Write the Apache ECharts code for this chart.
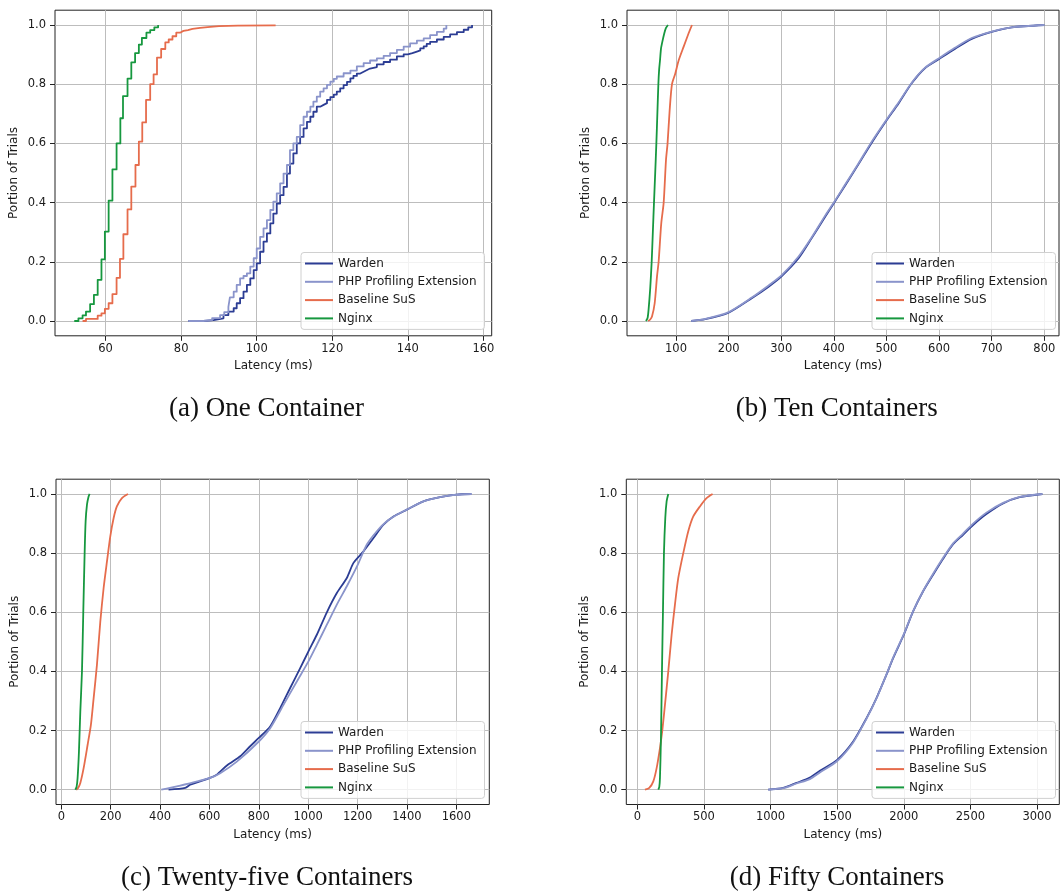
<!DOCTYPE html>
<html>
<head>
<meta charset="utf-8">
<title>Latency CDF</title>
<script src="https://cdn.jsdelivr.net/npm/echarts@6/dist/echarts.min.js"></script>
<style>
  html, body { margin: 0; padding: 0; background: #fff; }
  #chart { width: 1060px; height: 892px; }
</style>
</head>
<body>
<div id="chart"></div>
<script>
const seriesNames = ["Warden", "PHP Profiling Extension", "Baseline SuS", "Nginx"];
const captions = ["(a) One Container", "(b) Ten Containers", "(c) Twenty-five Containers", "(d) Fifty Containers"];

// tick values
const yTicks = [0, 0.2, 0.4, 0.6, 0.8, 1.0];
const oneTicks = [60, 80, 100, 120, 140, 160];
const tenTicks = [100, 200, 300, 400, 500, 600, 700, 800];
const twentyFiveTicks = [0, 200, 400, 600, 800, 1000, 1200, 1400, 1600];
const fiftyTicks = [0, 500, 1000, 1500, 2000, 2500, 3000];

// (a) one container: [latency ms, portion]
const oneWarden = [[81.9,0],[85.9,0.003],[88.6,0.009],[91.2,0.02],[92.5,0.032],[93.9,0.043],[94.7,0.06],[95.6,0.077],[96.5,0.099],[97.4,0.122],[98.3,0.144],[99.2,0.172],[100,0.195],[100.9,0.234],[101.8,0.268],[102.7,0.296],[103.6,0.33],[104.4,0.363],[105.3,0.397],[106.2,0.425],[107.1,0.453],[108,0.498],[108.8,0.532],[109.7,0.566],[110.6,0.6],[111.5,0.622],[112.4,0.651],[113.3,0.673],[114.2,0.69],[115,0.707],[115.9,0.724],[116.8,0.73],[117.7,0.736],[118.6,0.747],[119.5,0.756],[120.4,0.765],[121.2,0.775],[122.1,0.786],[123,0.797],[123.9,0.808],[124.8,0.82],[125.6,0.828],[126.5,0.836],[127.4,0.842],[128.3,0.848],[129.2,0.853],[130,0.858],[131.8,0.867],[133.6,0.875],[135.3,0.883],[137.1,0.894],[138.9,0.901],[140,0.905],[141.2,0.91],[142.4,0.914],[143.3,0.921],[144.2,0.928],[145,0.936],[145.9,0.943],[147.7,0.951],[149.5,0.96],[151.2,0.968],[153,0.976],[154.8,0.984],[156,0.992],[157,1.0]];
const onePhp = [[81.9,0],[85.9,0.003],[88.2,0.01],[90.3,0.02],[91.4,0.03],[92.5,0.048],[92.9,0.08],[93.9,0.099],[94.7,0.122],[95.6,0.144],[96.5,0.152],[97.4,0.161],[98.3,0.184],[99.2,0.212],[100,0.245],[100.9,0.284],[101.8,0.313],[102.7,0.341],[103.6,0.375],[104.4,0.403],[105.3,0.431],[106.2,0.465],[107.1,0.498],[108,0.527],[108.8,0.577],[109.7,0.6],[110.6,0.622],[111.5,0.662],[112.4,0.69],[113.3,0.707],[114.2,0.724],[115,0.741],[115.9,0.758],[116.8,0.775],[117.7,0.786],[118.6,0.798],[119.5,0.809],[120.4,0.818],[121.2,0.826],[123,0.837],[124.8,0.846],[126.5,0.86],[128.3,0.871],[130,0.88],[131.8,0.887],[133.6,0.896],[135.3,0.905],[137.1,0.916],[138.9,0.927],[140.6,0.938],[142.4,0.947],[144.2,0.955],[145.9,0.966],[147.7,0.977],[149.5,0.988],[150.2,1.0]];
const oneBaseline = [[53.9,0],[54.8,0.007],[57.9,0.018],[58.9,0.026],[59.8,0.041],[60.8,0.06],[61.8,0.091],[62.9,0.146],[63.8,0.21],[64.7,0.293],[65.8,0.377],[66.8,0.454],[67.9,0.527],[68.8,0.606],[69.7,0.671],[70.7,0.747],[71.8,0.8],[72.7,0.833],[73.6,0.89],[74.7,0.919],[75.8,0.941],[76.7,0.951],[77.7,0.962],[78.7,0.974],[79.7,0.98],[80.6,0.983],[81.8,0.987],[83,0.99],[85,0.993],[87,0.996],[90,0.998],[95,0.999],[105,1.0]];
const oneNginx = [[51.7,0],[52.8,0.009],[53.9,0.019],[54.8,0.032],[55.9,0.057],[56.9,0.088],[57.9,0.139],[58.9,0.208],[59.8,0.302],[60.8,0.407],[61.8,0.512],[62.9,0.6],[63.9,0.685],[64.6,0.76],[65.8,0.819],[66.8,0.874],[67.8,0.905],[68.8,0.934],[69.6,0.956],[70.8,0.974],[71.8,0.983],[72.9,0.992],[73.9,1.0]];

// (b) ten containers
const tenWarden = [[129,0],[155.7,0.006],[200,0.028],[244,0.077],[276,0.116],[300,0.15],[333,0.212],[358,0.28],[383.5,0.352],[400,0.398],[421.5,0.458],[447,0.53],[472,0.602],[500,0.677],[523,0.735],[548,0.803],[573,0.854],[600,0.885],[630,0.919],[662,0.953],[700,0.977],[738,0.992],[800,1.0]];
const tenPhp = [[129,0],[155.7,0.007],[200,0.03],[244,0.079],[276,0.12],[300,0.153],[333,0.218],[358,0.283],[383.5,0.356],[400,0.4],[421.5,0.461],[447,0.533],[472,0.606],[500,0.68],[523,0.738],[548,0.805],[573,0.855],[600,0.888],[630,0.923],[662,0.956],[700,0.978],[738,0.992],[800,1.0]];
const tenBaseline = [[47,0],[51,0.005],[54.4,0.015],[59.5,0.06],[63.9,0.15],[67,0.2],[72,0.33],[76.6,0.4],[81,0.544],[84,0.6],[88,0.713],[92.4,0.8],[98.7,0.836],[105,0.88],[114.6,0.927],[124,0.972],[130.4,1.0]];
const tenNginx = [[43,0],[46,0.01],[48,0.04],[51,0.11],[53.8,0.2],[56,0.3],[58.2,0.4],[60.5,0.5],[62.7,0.6],[64.6,0.7],[66.5,0.8],[68,0.85],[69.6,0.88],[71.5,0.92],[73.4,0.938],[77.8,0.972],[81,0.99],[84.8,1.0]];

// (c) twenty-five containers
const twentyFiveWarden = [[434.5,0],[502,0.006],[522,0.017],[600,0.039],[630,0.051],[670.7,0.082],[724.7,0.113],[765,0.147],[800,0.175],[846,0.214],[886.6,0.276],[927,0.344],[967.6,0.411],[1001,0.468],[1035,0.524],[1075.6,0.6],[1116,0.665],[1156.5,0.716],[1183.5,0.767],[1224,0.806],[1264.5,0.851],[1305,0.896],[1345.5,0.924],[1400,0.947],[1467,0.975],[1534,0.989],[1600,0.998],[1660,1.0]];
const twentyFivePhp = [[405,0],[468,0.011],[600,0.039],[643.7,0.056],[711,0.095],[800,0.163],[846,0.208],[900,0.287],[954,0.366],[1001,0.434],[1035,0.49],[1075.6,0.558],[1116,0.626],[1156.5,0.688],[1201,0.761],[1237.5,0.829],[1278,0.874],[1318.5,0.908],[1372.5,0.936],[1400,0.947],[1467,0.975],[1575,0.995],[1663,1.0]];
const twentyFiveBaseline = [[60.7,0],[68,0.006],[77,0.023],[90.4,0.073],[106.6,0.152],[120,0.22],[131,0.31],[144.4,0.423],[158,0.569],[171.4,0.682],[185,0.772],[198.4,0.857],[212,0.919],[225,0.958],[245.6,0.986],[270,1.0]];
const twentyFiveNginx = [[56.7,0],[62,0.01],[66,0.04],[71.5,0.13],[77,0.265],[83.7,0.4],[89,0.6],[94.5,0.8],[98.5,0.908],[104,0.964],[110,0.99],[114.7,1.0]];

// (d) fifty containers
const fiftyWarden = [[982.5,0],[1095,0.006],[1195,0.023],[1295,0.041],[1370,0.064],[1500,0.101],[1620,0.163],[1720,0.242],[1795,0.31],[1870,0.389],[1920,0.445],[2000,0.524],[2070,0.603],[2145,0.671],[2220,0.727],[2295,0.781],[2370,0.83],[2445,0.862],[2520,0.895],[2620,0.932],[2745,0.968],[2870,0.989],[3040,1.0]];
const fiftyPhp = [[982.5,0],[1095,0.005],[1195,0.021],[1295,0.036],[1370,0.058],[1500,0.097],[1620,0.16],[1720,0.24],[1795,0.309],[1870,0.39],[1920,0.447],[2000,0.526],[2070,0.604],[2145,0.672],[2220,0.73],[2295,0.784],[2370,0.833],[2445,0.866],[2520,0.9],[2620,0.937],[2745,0.97],[2870,0.99],[3040,1.0]];
const fiftyBaseline = [[57.5,0],[90,0.006],[120,0.028],[145,0.073],[170,0.141],[187.5,0.2],[207.5,0.287],[232.5,0.4],[257.5,0.524],[282.5,0.626],[307.5,0.716],[345,0.8],[382.5,0.874],[420,0.924],[470,0.958],[520,0.986],[565,1.0]];
const fiftyNginx = [[157.5,0],[165,0.01],[170,0.04],[177.5,0.175],[185,0.4],[192.5,0.6],[200,0.8],[210,0.919],[220,0.975],[232.5,1.0]];

const colors = ["#2c3d94", "#8a94cb", "#e66c4c", "#17983f"];
const textColor = "#1a1a1a";

// layout of the four panels
const panels = [
    { series: [oneWarden, onePhp, oneBaseline, oneNginx], ticks: oneTicks, xMin: 46.6, xMax: 162.2, step: true,
      grid: { left: 55, top: 10.2, width: 436.7, height: 325.6 }, legend: { left: 301, top: 252.5 }, caption: [266.5, 409] },
    { series: [tenWarden, tenPhp, tenBaseline, tenNginx], ticks: tenTicks, xMin: 6.9, xMax: 827.9, step: false,
      grid: { left: 627, top: 10.2, width: 432, height: 325.6 }, legend: { left: 872, top: 252.5 }, caption: [836.7, 409] },
    { series: [twentyFiveWarden, twentyFivePhp, twentyFiveBaseline, twentyFiveNginx], ticks: twentyFiveTicks, xMin: -21.5, xMax: 1733.6, step: false,
      grid: { left: 56, top: 479.2, width: 433.3, height: 325.3 }, legend: { left: 301, top: 721.5 }, caption: [267, 878] },
    { series: [fiftyWarden, fiftyPhp, fiftyBaseline, fiftyNginx], ticks: fiftyTicks, xMin: -82.6, xMax: 3167, step: false,
      grid: { left: 626.3, top: 479.2, width: 433, height: 325.3 }, legend: { left: 872, top: 721.5 }, caption: [837, 878] },
];

const chart = echarts.init(document.getElementById("chart"));

const series = [];
panels.forEach((p, i) => {
    p.series.forEach((data, k) => {
        series.push({
            name: seriesNames[k],
            type: "line",
            xAxisIndex: i,
            yAxisIndex: i,
            data: data,
            symbol: "none",
            showSymbol: false,
            step: p.step ? "end" : false,
            smooth: p.step ? false : 0.25,
            color: colors[k],
            lineStyle: { width: 1.8, color: colors[k], join: "round" },
        });
    });
});

chart.setOption({
    animation: false,
    backgroundColor: "#fff",
    textStyle: { fontFamily: "DejaVu Sans", color: textColor },
    grid: panels.map((p) => Object.assign({ show: true, borderColor: "#222", borderWidth: 1 }, p.grid)),
    xAxis: panels.map((p, i) => ({
        type: "value",
        gridIndex: i,
        min: p.xMin,
        max: p.xMax,
        name: "Latency (ms)",
        nameLocation: "middle",
        nameGap: 24,
        nameTextStyle: { fontSize: 12, color: textColor },
        axisLine: { show: false, onZero: false },
        axisTick: { show: true, length: 5, customValues: p.ticks, lineStyle: { color: "#222" } },
        axisLabel: { customValues: p.ticks, fontSize: 11.5, margin: 7, color: textColor, formatter: (v) => String(v) },
        splitLine: { show: true, lineStyle: { color: "#bdbdbd", width: 1 } },
    })),
    yAxis: panels.map((p, i) => ({
        type: "value",
        gridIndex: i,
        min: -0.05,
        max: 1.05,
        name: "Portion of Trials",
        nameLocation: "middle",
        nameGap: 35,
        nameTextStyle: { fontSize: 12, color: textColor },
        axisLine: { show: false, onZero: false },
        axisTick: { show: true, length: 5, customValues: yTicks, lineStyle: { color: "#222" } },
        axisLabel: { customValues: yTicks, fontSize: 11.5, margin: 9, color: textColor, formatter: (v) => v.toFixed(1) },
        splitLine: { show: true, lineStyle: { color: "#bdbdbd", width: 1 } },
    })),
    legend: panels.map((p) => ({
        data: seriesNames,
        left: p.legend.left,
        top: p.legend.top,
        orient: "vertical",
        icon: "path://M0,0h28v2h-28z",
        itemWidth: 28,
        itemHeight: 14,
        itemGap: 4.3,
        padding: [4, 8, 4, 4],
        backgroundColor: "rgba(255,255,255,0.8)",
        borderColor: "#d0d0d0",
        borderWidth: 1,
        borderRadius: 3,
        selectedMode: false,
        textStyle: { fontSize: 12, lineHeight: 14, color: textColor },
    })),
    graphic: panels.map((p, i) => ({
        type: "text",
        x: p.caption[0],
        y: p.caption[1],
        style: {
            text: captions[i],
            fontSize: 27,
            fontFamily: "Liberation Serif",
            fill: "#111",
            align: "center",
            verticalAlign: "middle",
        },
    })),
    series: series,
});
</script>
</body>
</html>
